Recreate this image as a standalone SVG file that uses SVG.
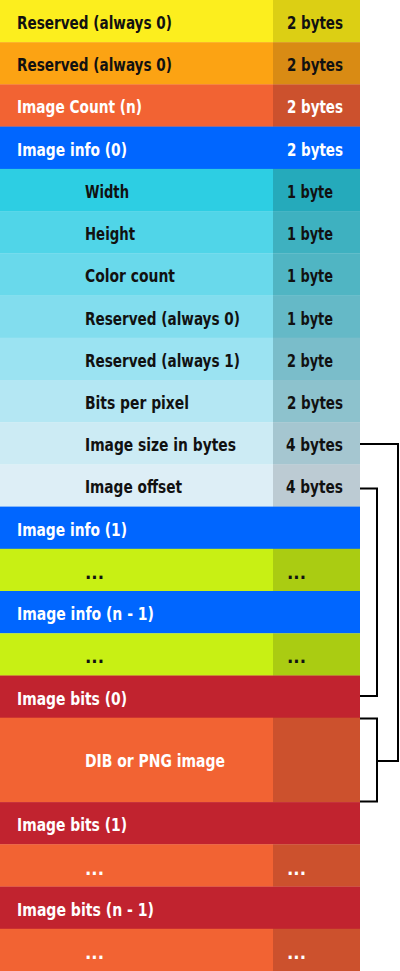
<svg xmlns="http://www.w3.org/2000/svg" width="400" height="971" viewBox="0 0 400 971">
<style>
text{font-family:"Liberation Sans Narrow","DejaVu Sans Condensed","Liberation Sans",sans-serif;font-weight:bold;font-size:18.5px}
.d{fill:#111}
.w{fill:#fff}
.conn{fill:none;stroke:#000;stroke-width:2}
</style>
<rect width="400" height="971" fill="#fff"/>
<g id="r1"><rect x="0" y="0" width="273" height="42.5" fill="#FCEE1E"/><rect x="273" y="0" width="87" height="42.5" fill="#DCCF14"/><text class="d" x="17" y="29" textLength="155" lengthAdjust="spacingAndGlyphs">Reserved (always 0)</text><text class="d" x="287" y="29" textLength="56" lengthAdjust="spacingAndGlyphs">2 bytes</text></g>
<g id="r2"><rect x="0" y="42.2" width="273" height="42.5" fill="#FCA313"/><rect x="273" y="42.2" width="87" height="42.5" fill="#D98B14"/><text class="d" x="17" y="71.2" textLength="155" lengthAdjust="spacingAndGlyphs">Reserved (always 0)</text><text class="d" x="287" y="71.2" textLength="56" lengthAdjust="spacingAndGlyphs">2 bytes</text></g>
<g id="r3"><rect x="0" y="84.4" width="273" height="42.5" fill="#F26333"/><rect x="273" y="84.4" width="87" height="42.5" fill="#CC512D"/><text class="w" x="17" y="113.4" textLength="125" lengthAdjust="spacingAndGlyphs">Image Count (n)</text><text class="w" x="287" y="113.4" textLength="56" lengthAdjust="spacingAndGlyphs">2 bytes</text></g>
<g id="r4"><rect x="0" y="126.6" width="360" height="42.5" fill="#0066FF"/><text class="w" x="17" y="155.7" textLength="110" lengthAdjust="spacingAndGlyphs">Image info (0)</text><text class="w" x="287" y="155.7" textLength="56" lengthAdjust="spacingAndGlyphs">2 bytes</text></g>
<g id="r5"><rect x="0" y="168.9" width="273" height="42.5" fill="#2DCEE3"/><rect x="273" y="168.9" width="87" height="42.5" fill="#25AABB"/><text class="d" x="85" y="197.9" textLength="44" lengthAdjust="spacingAndGlyphs">Width</text><text class="d" x="287" y="197.9" textLength="46" lengthAdjust="spacingAndGlyphs">1 byte</text></g>
<g id="r6"><rect x="0" y="211.1" width="273" height="42.5" fill="#50D5E8"/><rect x="273" y="211.1" width="87" height="42.5" fill="#3EB1C0"/><text class="d" x="85" y="240.1" textLength="50" lengthAdjust="spacingAndGlyphs">Height</text><text class="d" x="287" y="240.1" textLength="46" lengthAdjust="spacingAndGlyphs">1 byte</text></g>
<g id="r7"><rect x="0" y="253.3" width="273" height="42.5" fill="#69D9EB"/><rect x="273" y="253.3" width="87" height="42.5" fill="#50B5C3"/><text class="d" x="85" y="282.3" textLength="90" lengthAdjust="spacingAndGlyphs">Color count</text><text class="d" x="287" y="282.3" textLength="46" lengthAdjust="spacingAndGlyphs">1 byte</text></g>
<g id="r8"><rect x="0" y="295.5" width="273" height="42.5" fill="#82DDEE"/><rect x="273" y="295.5" width="87" height="42.5" fill="#65B9C7"/><text class="d" x="85" y="324.5" textLength="155" lengthAdjust="spacingAndGlyphs">Reserved (always 0)</text><text class="d" x="287" y="324.5" textLength="46" lengthAdjust="spacingAndGlyphs">1 byte</text></g>
<g id="r9"><rect x="0" y="337.7" width="273" height="42.5" fill="#9BE3F2"/><rect x="273" y="337.7" width="87" height="42.5" fill="#7ABDCA"/><text class="d" x="85" y="366.7" textLength="155" lengthAdjust="spacingAndGlyphs">Reserved (always 1)</text><text class="d" x="287" y="366.7" textLength="46" lengthAdjust="spacingAndGlyphs">2 byte</text></g>
<g id="r10"><rect x="0" y="380" width="273" height="42.5" fill="#B4E7F3"/><rect x="273" y="380" width="87" height="42.5" fill="#8DC2CD"/><text class="d" x="85" y="409" textLength="104" lengthAdjust="spacingAndGlyphs">Bits per pixel</text><text class="d" x="287" y="409" textLength="56" lengthAdjust="spacingAndGlyphs">2 bytes</text></g>
<g id="r11"><rect x="0" y="422.2" width="273" height="42.5" fill="#CCEBF4"/><rect x="273" y="422.2" width="87" height="42.5" fill="#A5C6D0"/><text class="d" x="85" y="451.2" textLength="151" lengthAdjust="spacingAndGlyphs">Image size in bytes</text><text class="d" x="286" y="451.2" textLength="57" lengthAdjust="spacingAndGlyphs">4 bytes</text></g>
<g id="r12"><rect x="0" y="464.4" width="273" height="42.5" fill="#DDEEF6"/><rect x="273" y="464.4" width="87" height="42.5" fill="#BCCBD3"/><text class="d" x="85" y="493.4" textLength="97" lengthAdjust="spacingAndGlyphs">Image offset</text><text class="d" x="286" y="493.4" textLength="57" lengthAdjust="spacingAndGlyphs">4 bytes</text></g>
<g id="r13"><rect x="0" y="506.6" width="360" height="42.5" fill="#0066FF"/><text class="w" x="17" y="535.6" textLength="110" lengthAdjust="spacingAndGlyphs">Image info (1)</text></g>
<g id="r14"><rect x="0" y="548.8" width="273" height="42.5" fill="#C8F014"/><rect x="273" y="548.8" width="87" height="42.5" fill="#AACC12"/><text class="d" x="85" y="579" textLength="19" lengthAdjust="spacing">...</text><text class="d" x="287" y="579" textLength="19" lengthAdjust="spacing">...</text></g>
<g id="r15"><rect x="0" y="591" width="360" height="42.5" fill="#0066FF"/><text class="w" x="17" y="620" textLength="137" lengthAdjust="spacingAndGlyphs">Image info (n - 1)</text></g>
<g id="r16"><rect x="0" y="633.3" width="273" height="42.5" fill="#C8F014"/><rect x="273" y="633.3" width="87" height="42.5" fill="#AACC12"/><text class="d" x="85" y="663.3" textLength="19" lengthAdjust="spacing">...</text><text class="d" x="287" y="663.3" textLength="19" lengthAdjust="spacing">...</text></g>
<g id="r17"><rect x="0" y="675.5" width="360" height="42.5" fill="#C1232F"/><text class="w" x="17" y="704.5" textLength="110" lengthAdjust="spacingAndGlyphs">Image bits (0)</text></g>
<g id="r18"><rect x="0" y="717.7" width="273" height="84.7" fill="#F26333"/><rect x="273" y="717.7" width="87" height="84.7" fill="#CC512D"/><text class="w" x="85" y="766.5" textLength="140" lengthAdjust="spacingAndGlyphs">DIB or PNG image</text></g>
<g id="r19"><rect x="0" y="802.1" width="360" height="42.5" fill="#C1232F"/><text class="w" x="17" y="831.1" textLength="110" lengthAdjust="spacingAndGlyphs">Image bits (1)</text></g>
<g id="r20"><rect x="0" y="844.3" width="273" height="42.5" fill="#F26333"/><rect x="273" y="844.3" width="87" height="42.5" fill="#CC512D"/><text class="w" x="85" y="874.5" textLength="19" lengthAdjust="spacing">...</text><text class="w" x="287" y="874.5" textLength="19" lengthAdjust="spacing">...</text></g>
<g id="r21"><rect x="0" y="886.6" width="360" height="42.5" fill="#C1232F"/><text class="w" x="17" y="915.6" textLength="137" lengthAdjust="spacingAndGlyphs">Image bits (n - 1)</text></g>
<g id="r22"><rect x="0" y="928.8" width="273" height="42.2" fill="#F26333"/><rect x="273" y="928.8" width="87" height="42.2" fill="#CC512D"/><text class="w" x="85" y="959" textLength="19" lengthAdjust="spacing">...</text><text class="w" x="287" y="959" textLength="19" lengthAdjust="spacing">...</text></g>
<g id="connectors">
<polyline class="conn" points="360,444 398,444 398,761 377,761"/>
<polyline class="conn" points="360,488.5 377,488.5 377,696 360,696"/>
<polyline class="conn" points="360,718.5 377,718.5 377,801.5 360,801.5"/>
</g>
</svg>
